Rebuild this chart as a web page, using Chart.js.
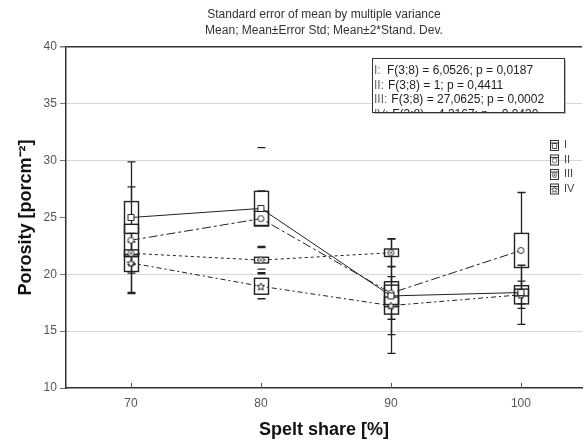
<!DOCTYPE html>
<html>
<head>
<meta charset="utf-8">
<script src="https://cdn.jsdelivr.net/npm/chart.js@4/dist/chart.umd.min.js"></script>
<style>
  html, body { margin: 0; padding: 0; background: #fff; }
  #wrap { width: 587px; height: 441px; }
</style>
</head>
<body>
<div id="wrap"><canvas id="chart" width="587" height="441"></canvas></div>
<script>
// Spelt share levels (x categories)
const categories = [70, 80, 90, 100];
const yTicks = [10, 15, 20, 25, 30, 35, 40];

// Porosity: group means, standard errors and 2*SD for the four variables
const meanI   = [25.0, 25.8, 18.1, 18.4];
const seI     = [1.4, 1.5, 0.95, 0.3];
const sd2I    = [4.9, 5.35, 5.05, 1.0];

const meanII  = [23.0, 24.9, 18.35, 22.1];
const seII    = [1.4, 0.65, 1.0, 1.5];
const sd2II   = [4.7, 2.45, 2.3, 5.1];

const meanIII = [21.85, 21.25, 21.9, null];
const seIII   = [0.3, 0.25, 0.33, null];
const sd2III  = [1.0, 1.1, 1.2, null];

const meanIV  = [21.0, 18.95, 17.25, 18.2];
const seIV    = [0.75, 0.7, 0.75, 0.8];
const sd2IV   = [2.6, 1.1, 2.55, 2.6];

const seriesNames = ['I', 'II', 'III', 'IV'];
const statsLabels = ['I:', 'II:', 'III:', 'IV:'];
const statsTexts = [
  'F(3;8) = 6,0526; p = 0,0187',
  'F(3;8) = 1; p = 0,4411',
  'F(3;8) = 27,0625; p = 0,0002',
  'F(3;8) = 4,3167; p = 0,0430'
];

const INK = '#222';

// small marker bitmaps used as point styles
function makeMarker(kind) {
  const c = document.createElement('canvas');
  c.width = 9; c.height = 9;
  const g = c.getContext('2d');
  g.strokeStyle = INK; g.fillStyle = '#fff'; g.lineWidth = 1;
  const m = 4.5;
  g.beginPath();
  if (kind === 'square') {
    g.rect(1.5, 1.5, 6, 6);
  } else if (kind === 'circle' || kind === 'dot') {
    g.arc(m, m, 3, 0, Math.PI * 2);
  } else if (kind === 'star') {
    for (let k = 0; k < 10; k++) {
      const r = k % 2 ? 1.8 : 4;
      const a = -Math.PI / 2 + k * Math.PI / 5;
      const X = m + r * Math.cos(a), Y = m + 0.5 + r * Math.sin(a);
      if (k) g.lineTo(X, Y); else g.moveTo(X, Y);
    }
    g.closePath();
  }
  g.fill(); g.stroke();
  if (kind === 'dot') {
    g.fillStyle = INK;
    g.beginPath(); g.arc(m, m, 1.1, 0, Math.PI * 2); g.fill();
  }
  return c;
}

const series = [
  { name: 'I',   mean: meanI,   se: seI,   sd2: sd2I,   dash: [],            marker: makeMarker('square') },
  { name: 'II',  mean: meanII,  se: seII,  sd2: sd2II,  dash: [9, 3, 3, 3],  marker: makeMarker('circle') },
  { name: 'III', mean: meanIII, se: seIII, sd2: sd2III, dash: [3, 3],        marker: makeMarker('dot') },
  { name: 'IV',  mean: meanIV,  se: seIV,  sd2: sd2IV,  dash: [5, 3, 2, 3],  marker: makeMarker('star') }
];

// categories where the whisker stems are left out (only caps shown)
const capsOnly = new Set([80]);

// boxes (mean ± SE) and whiskers (mean ± 2*SD) behind the mean lines
const boxPlugin = {
  id: 'boxes',
  beforeDatasetsDraw(chart) {
    const { ctx, scales: { x, y } } = chart;
    ctx.save();
    ctx.strokeStyle = INK;
    series.forEach(s => {
      categories.forEach((c, i) => {
        const m = s.mean[i];
        if (m == null) return;
        const px = Math.round(x.getPixelForValue(c)) + 0.5;
        const wTop = y.getPixelForValue(m + s.sd2[i]);
        const wBot = y.getPixelForValue(m - s.sd2[i]);
        const bTop = y.getPixelForValue(m + s.se[i]);
        const bBot = y.getPixelForValue(m - s.se[i]);
        ctx.lineWidth = 1.3;
        ctx.beginPath();
        if (!capsOnly.has(c)) {
          ctx.moveTo(px, wTop); ctx.lineTo(px, bTop);
          ctx.moveTo(px, bBot); ctx.lineTo(px, wBot);
        }
        ctx.moveTo(px - 4, wTop); ctx.lineTo(px + 4, wTop);
        ctx.moveTo(px - 4, wBot); ctx.lineTo(px + 4, wBot);
        ctx.stroke();
        ctx.lineWidth = 1.4;
        ctx.strokeRect(px - 7, bTop, 14, bBot - bTop);
      });
    });
    ctx.restore();
  }
};

// title, frame details, stats panel and series key
const decorPlugin = {
  id: 'decor',
  afterDraw(chart) {
    const { ctx, chartArea: a, scales: { x, y } } = chart;
    ctx.save();

    // title
    const cx = (a.left + a.right) / 2;
    ctx.fillStyle = '#333';
    ctx.font = '12px "Liberation Sans", Arial, sans-serif';
    ctx.textAlign = 'center';
    ctx.textBaseline = 'middle';
    ctx.fillText('Standard error of mean by multiple variance', cx, 15);
    ctx.fillText('Mean; Mean±Error Std; Mean±2*Stand. Dev.', cx, 31);

    // inward tick marks on the x axis
    ctx.strokeStyle = '#555';
    ctx.lineWidth = 1;
    ctx.beginPath();
    categories.forEach(c => {
      const px = Math.round(x.getPixelForValue(c)) + 0.5;
      ctx.moveTo(px, a.bottom); ctx.lineTo(px, a.bottom - 5);
    });
    ctx.stroke();

    // stats panel
    const bx = 372, by = 58, bw = 192, bh = 54;
    ctx.fillStyle = '#bbb';
    ctx.fillRect(bx + 2, by + 2, bw, bh);
    ctx.fillStyle = '#fff';
    ctx.fillRect(bx, by, bw, bh);
    ctx.save();
    ctx.beginPath();
    ctx.rect(bx, by, bw, bh);
    ctx.clip();
    ctx.font = '12px "Liberation Sans", Arial, sans-serif';
    ctx.textAlign = 'left';
    statsTexts.forEach((t, i) => {
      const ty = 71 + i * 14.5;
      ctx.fillStyle = '#666';
      ctx.fillText(statsLabels[i], bx + 2, ty);
      const lw = ctx.measureText(statsLabels[i]).width;
      ctx.fillStyle = '#222';
      ctx.fillText(t, Math.max(bx + 15, bx + 2 + lw + 4), ty);
    });
    ctx.restore();
    ctx.strokeStyle = '#333';
    ctx.lineWidth = 1;
    ctx.strokeRect(bx + 0.5, by + 0.5, bw, bh);

    // series key
    ctx.font = '11px "Liberation Sans", Arial, sans-serif';
    ctx.textAlign = 'left';
    series.forEach((s, i) => {
      const ky = 145 + i * 14.5;
      const kx = 550;
      ctx.strokeStyle = '#333';
      ctx.lineWidth = 1;
      ctx.fillStyle = '#fff';
      ctx.fillRect(kx, ky - 5, 8, 10);
      ctx.strokeRect(kx + 0.5, ky - 4.5, 8, 10);
      ctx.beginPath();
      ctx.moveTo(kx + 0.5, ky - 2); ctx.lineTo(kx + 8.5, ky - 2);
      ctx.stroke();
      ctx.drawImage(s.marker, kx + 1, ky - 2.5, 7, 7);
      ctx.fillStyle = '#444';
      ctx.fillText(s.name, kx + 14, ky);
    });

    ctx.restore();
  }
};

const datasets = series.map(s => ({
  label: s.name,
  data: categories.map((c, i) => ({ x: c, y: s.mean[i] })).filter(p => p.y != null),
  borderColor: INK,
  borderWidth: 1,
  borderDash: s.dash,
  pointStyle: s.marker,
  pointRadius: 4,
  tension: 0,
  fill: false
}));

new Chart(document.getElementById('chart'), {
  type: 'line',
  data: { datasets },
  options: {
    responsive: false,
    animation: false,
    devicePixelRatio: 1,
    layout: { padding: { left: 11, top: 47, right: 0, bottom: 0 } },
    plugins: {
      legend: { display: false },
      title: { display: false },
      tooltip: { enabled: false }
    },
    scales: {
      x: {
        type: 'linear',
        min: 65,
        max: 104.7,
        afterBuildTicks: s => { s.ticks = categories.map(v => ({ value: v })); },
        ticks: {
          color: '#555',
          font: { family: '"Liberation Sans", Arial, sans-serif', size: 12 },
          padding: 8,
          callback: v => String(v)
        },
        grid: { display: false, drawTicks: false },
        border: { color: '#333', width: 1.5 },
        title: {
          display: true,
          text: 'Spelt share [%]',
          color: '#111',
          font: { family: '"Liberation Sans", Arial, sans-serif', size: 18, weight: 'bold' },
          padding: { top: 1, bottom: 0 }
        }
      },
      y: {
        min: 10,
        max: 40,
        afterBuildTicks: s => { s.ticks = yTicks.map(v => ({ value: v })); },
        ticks: {
          color: '#555',
          font: { family: '"Liberation Sans", Arial, sans-serif', size: 12 },
          padding: 3
        },
        grid: {
          color: c => {
            const v = c.tick && c.tick.value;
            if (v === 40) return '#333';
            if (v === 10 || v === 25) return 'rgba(0,0,0,0)';
            return '#d6d6d6';
          },
          lineWidth: c => (c.tick && c.tick.value === 40 ? 1.5 : 1),
          tickColor: '#777',
          tickLength: 6
        },
        border: { color: '#333', width: 1.5 },
        title: {
          display: true,
          text: 'Porosity [porcm⁻²]',
          color: '#111',
          font: { family: '"Liberation Sans", Arial, sans-serif', size: 18, weight: 'bold' },
          padding: { top: 4, bottom: 4 }
        }
      }
    }
  },
  plugins: [boxPlugin, decorPlugin]
});
</script>
</body>
</html>
